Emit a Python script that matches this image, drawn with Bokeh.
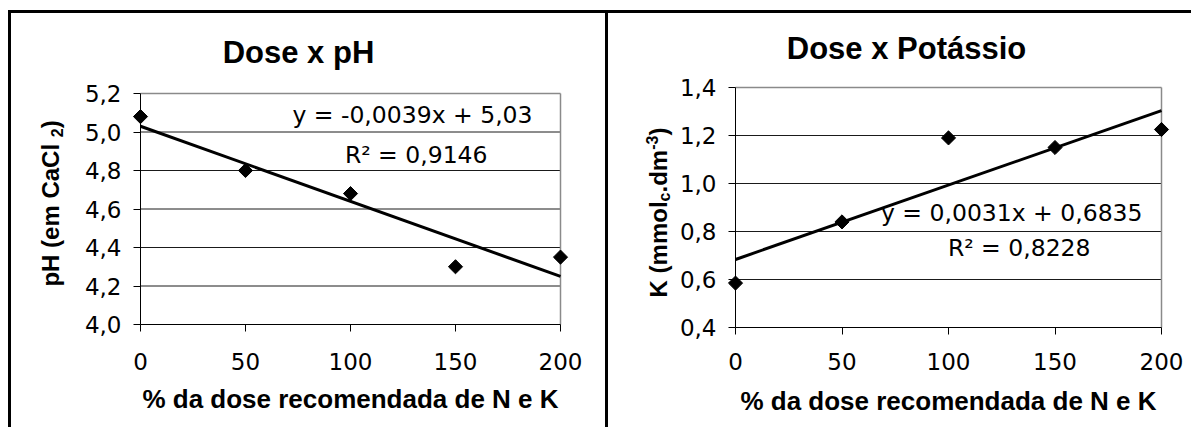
import numpy as np
from bokeh.plotting import figure
from bokeh.models import FixedTicker, CustomJSTickFormatter, Label, Range1d
from bokeh.layouts import row
from bokeh.embed import file_html
from bokeh.resources import INLINE

# ---------------- data ----------------
dose = [0, 50, 100, 150, 200]
ph = [5.08, 4.80, 4.68, 4.30, 4.35]
potassio = [0.585, 0.84, 1.19, 1.15, 1.225]

ph_slope, ph_intercept = -0.0039, 5.03
k_slope, k_intercept = 0.0031, 0.6835

x_ticks = [0, 50, 100, 150, 200]
ph_ticks = [4.0, 4.2, 4.4, 4.6, 4.8, 5.0, 5.2]
k_ticks = [0.4, 0.6, 0.8, 1.0, 1.2, 1.4]

title_ph = "Dose x pH"
title_k = "Dose x Potássio"
x_title = "% da dose recomendada de N e K"
eq_ph = "y = -0,0039x + 5,03"
r2_ph = "R\u00b2 = 0,9146"
eq_k = "y = 0,0031x + 0,6835"
r2_k = "R\u00b2 = 0,8228"
# y titles as (text, role) pieces: role "n" normal, "sub" subscript, "sup" superscript
y_title_ph = [("pH (em CaCl ", "n"), ("2", "sub"), (")", "n")]
y_title_k = [("K (mmol", "n"), ("c", "sub"), (".dm", "n"), ("-3", "sup"), (")", "n")]

REG = "DejaVu Sans"
BOLD = "Liberation Sans"
GRID = "#1a1a1a"
FRAME = "#8a8a8a"

comma_fmt = CustomJSTickFormatter(code="return tick.toFixed(1).replace('.', ',');")

# approximate Arial-bold advance widths (em) for laying out the rotated y titles
ARIAL_B = {"p": .611, "H": .722, " ": .278, "(": .333, ")": .333, "e": .556, "m": .889,
           "C": .722, "a": .556, "l": .278, "2": .556, "K": .722, "o": .611, "c": .556,
           ".": .278, "d": .611, "-": .333, "3": .556}


def text_w(s, fs):
    return sum(ARIAL_B.get(ch, .6) for ch in s) * fs


def make_panel(width, height, frame_px, origin, yticks, styles, xlab_standoff, xtitle_standoff):
    # frame_px: plot area (left, right, top, bottom) in page pixels; origin: page pixel of canvas top-left
    fl, fr, ft, fb = frame_px
    ox, oy = origin
    xs = (fr - fl) / (x_ticks[-1] - x_ticks[0])
    ys = (fb - ft) / (yticks[-1] - yticks[0])

    def dx(px):
        return x_ticks[0] + (px - fl) / xs

    def dy(py):
        return yticks[-1] - (py - ft) / ys

    p = figure(width=width, height=height, output_backend="svg", toolbar_location=None,
               x_range=Range1d(dx(ox), dx(ox + width)), y_range=Range1d(dy(oy + height), dy(oy)),
               min_border=0, min_border_left=0, min_border_right=0, min_border_top=0, min_border_bottom=0,
               background_fill_color="white", border_fill_color="white",
               outline_line_color=None, styles=styles)
    p.xgrid.visible = False
    p.ygrid.visible = False

    xax = p.xaxis[0]
    yax = p.yaxis[0]
    # axes fixed at the plot-area edges
    xax.fixed_location = yticks[0]
    yax.fixed_location = x_ticks[0]
    xax.bounds = (x_ticks[0], x_ticks[-1])
    yax.bounds = (yticks[0], yticks[-1])
    xax.ticker = FixedTicker(ticks=x_ticks)
    yax.ticker = FixedTicker(ticks=yticks)
    yax.formatter = comma_fmt
    for ax in (xax, yax):
        ax.major_tick_in = 0
        ax.major_tick_out = 7
        ax.minor_tick_line_color = None
        ax.axis_line_color = "black"
        ax.axis_line_width = 1
        ax.major_tick_line_color = "black"
        ax.major_label_text_font = REG
        ax.major_label_text_font_size = "23px"
        ax.major_label_text_font_style = "normal"
        ax.major_label_text_color = "black"
        ax.axis_label_text_font = BOLD
        ax.axis_label_text_font_style = "bold"
        ax.axis_label_text_color = "black"
    yax.major_label_standoff = 12
    xax.major_label_standoff = xlab_standoff
    xax.axis_label = x_title
    xax.axis_label_text_font_size = "26px"
    xax.axis_label_standoff = xtitle_standoff

    # horizontal grid lines (inner ticks) and grey plot-area border
    inner = yticks[1:-1]
    p.segment(x0=[x_ticks[0]] * len(inner), x1=[x_ticks[-1]] * len(inner), y0=inner, y1=inner,
              line_color=GRID, line_width=1)
    p.segment(x0=[x_ticks[0], x_ticks[-1]], x1=[x_ticks[-1], x_ticks[-1]],
              y0=[yticks[-1], yticks[0]], y1=[yticks[-1], yticks[-1]],
              line_color=FRAME, line_width=1.5)
    return p, dx, dy


def add_rot_title(p, dx, dy, pieces, cx, cy_center, fs, sfs):
    widths = [text_w(t, sfs if r != "n" else fs) for t, r in pieces]
    cy = cy_center + sum(widths) / 2.0
    for (txt, role), w in zip(pieces, widths):
        shift = {"n": 0, "sub": 6, "sup": -7}[role]
        size = fs if role == "n" else sfs
        p.add_layout(Label(x=dx(cx + shift), y=dy(cy), text=txt, angle=np.pi / 2,
                           text_font=BOLD, text_font_style="bold", text_font_size=f"{size}px",
                           text_align="left", text_baseline="middle", text_color="black"))
        cy -= w


def add_text(p, x, y, txt, font, size, align, bold=False):
    p.add_layout(Label(x=x, y=y, text=txt, text_font=font, text_font_size=f"{size}px",
                       text_font_style="bold" if bold else "normal",
                       text_align=align, text_baseline="middle", text_color="black"))


line_x = [dose[0], dose[-1]]

# ---------------- left panel ----------------
left, ldx, ldy = make_panel(
    597, 417, (140, 560, 93, 324), (11, 13), ph_ticks,
    {"margin-left": "8px", "margin-top": "10px",
     "border-left": "3px solid black", "border-top": "3px solid black"},
    21, 11)
left.line(line_x, [ph_intercept + ph_slope * v for v in line_x], line_color="black", line_width=3)
left.scatter(dose, ph, marker="square", angle=np.pi / 4, size=10, color="black")
add_text(left, ldx(298), ldy(52), title_ph, BOLD, 31, "center", bold=True)
add_text(left, ldx(532), ldy(114), eq_ph, REG, 23.5, "right")
add_text(left, ldx(487), ldy(154), r2_ph, REG, 23.5, "right")
add_rot_title(left, ldx, ldy, y_title_ph, 50, 203, 24, 16)

# ---------------- right panel ----------------
right, rdx, rdy = make_panel(
    586, 417, (738, 1164, 87, 327), (611, 13), k_ticks,
    {"margin-top": "10px", "border-left": "3px solid black", "border-top": "3px solid black"},
    18, 13)
right.line(line_x, [k_intercept + k_slope * v for v in line_x], line_color="black", line_width=3)
right.scatter(dose, potassio, marker="square", angle=np.pi / 4, size=10, color="black")
add_text(right, rdx(909), rdy(48), title_k, BOLD, 31, "center", bold=True)
add_text(right, rdx(1145), rdy(212), eq_k, REG, 23.5, "right")
add_text(right, rdx(1093), rdy(247), r2_k, REG, 23.5, "right")
add_rot_title(right, rdx, rdy, y_title_k, 661, 212, 24, 16)

layout = row(left, right)
open("out.html", "w").write(file_html(layout, INLINE))
